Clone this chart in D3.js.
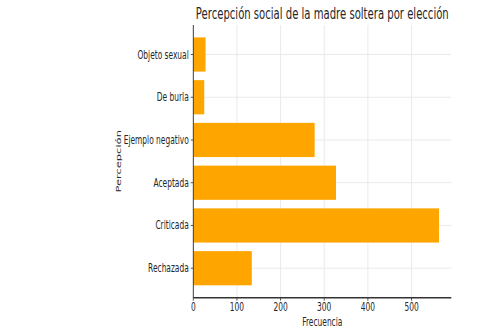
<!DOCTYPE html>
<html>
<head>
<meta charset="utf-8">
<script src="https://cdn.jsdelivr.net/npm/d3@7"></script>
<style>
  body { margin: 0; background: #fff; }
  svg { display: block; }
  text { font-family: "DejaVu Sans", sans-serif; fill: #262626; }
</style>
</head>
<body>
<svg id="chart"></svg>
<script>
// data, bottom to top as matplotlib barh draws them
var categories = ["Rechazada", "Criticada", "Aceptada", "Ejemplo negativo", "De burla", "Objeto sexual"]
var values = [134, 563, 327, 278, 25, 28]
var xTicks = [0, 100, 200, 300, 400, 500]

var W = 485, H = 334
var k = 0.65          // the picture is squeezed sideways, so draw wide and squash
var IW = W / k

var svg = d3.select("#chart")
    .attr("width", W).attr("height", H)
    .attr("viewBox", "0 0 " + IW + " " + H)
    .attr("preserveAspectRatio", "none")

var pLeft = 297.4, pRight = 694.3, pTop = 25, pBottom = 297.7

var xmax = d3.max(values) * 1.05
var x = d3.scaleLinear().domain([0, xmax]).range([pLeft, pRight])
var pad = (categories.length - 1 + 0.8) * 0.05
var y = d3.scaleLinear().domain([-0.4 - pad, categories.length - 1 + 0.4 + pad]).range([pBottom, pTop])

// grid
svg.selectAll(".vgrid").data(xTicks).enter().append("line")
    .attr("x1", d => x(d)).attr("x2", d => x(d))
    .attr("y1", pTop).attr("y2", pBottom)
    .attr("stroke", "#e6e6e6").attr("stroke-width", 1)

svg.selectAll(".hgrid").data(categories).enter().append("line")
    .attr("x1", pLeft).attr("x2", pRight)
    .attr("y1", (d, i) => y(i)).attr("y2", (d, i) => y(i))
    .attr("stroke", "#e6e6e6").attr("stroke-width", 1)

// bars
svg.selectAll(".bar").data(values).enter().append("rect")
    .attr("x", x(0))
    .attr("y", (d, i) => y(i + 0.4))
    .attr("width", d => x(d) - x(0))
    .attr("height", y(0) - y(0.8))
    .attr("fill", "#FFA500")

// spines
svg.append("line").attr("x1", pLeft).attr("x2", pLeft).attr("y1", pTop).attr("y2", pBottom)
    .attr("stroke", "#333").attr("stroke-width", 1.4)
svg.append("line").attr("x1", pLeft).attr("x2", pRight).attr("y1", pBottom).attr("y2", pBottom)
    .attr("stroke", "#333").attr("stroke-width", 1.4)

// y ticks + labels
svg.selectAll(".ytick").data(categories).enter().append("line")
    .attr("x1", pLeft - 4).attr("x2", pLeft)
    .attr("y1", (d, i) => y(i)).attr("y2", (d, i) => y(i))
    .attr("stroke", "#333")
svg.selectAll(".ylab").data(categories).enter().append("text")
    .attr("x", pLeft - 7)
    .attr("y", (d, i) => y(i))
    .attr("dy", "0.35em")
    .attr("text-anchor", "end")
    .style("font-size", "11.5px")
    .text(d => d)

// x ticks + labels
svg.selectAll(".xtick").data(xTicks).enter().append("line")
    .attr("x1", d => x(d)).attr("x2", d => x(d))
    .attr("y1", pBottom).attr("y2", pBottom + 3)
    .attr("stroke", "#333")
svg.selectAll(".xlab").data(xTicks).enter().append("text")
    .attr("x", d => x(d))
    .attr("y", pBottom + 13)
    .attr("text-anchor", "middle")
    .style("font-size", "11.5px")
    .text(d => d)

// titles
svg.append("text")
    .attr("x", (pLeft + pRight) / 2).attr("y", 19)
    .attr("text-anchor", "middle")
    .style("font-size", "15.5px")
    .text("Percepción social de la madre soltera por elección")

svg.append("text")
    .attr("x", (pLeft + pRight) / 2).attr("y", 326)
    .attr("text-anchor", "middle")
    .style("font-size", "11.5px")
    .text("Frecuencia")

svg.append("text")
    .attr("transform", "translate(186," + ((pTop + pBottom) / 2) + ") rotate(-90)")
    .attr("text-anchor", "middle")
    .style("font-size", "11.5px")
    .text("Percepción")
</script>
</body>
</html>
